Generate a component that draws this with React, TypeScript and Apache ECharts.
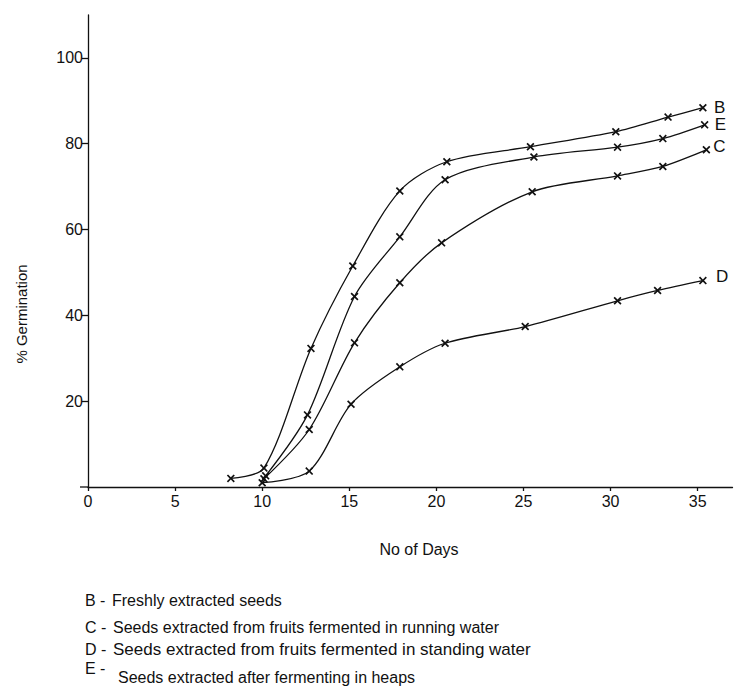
import React, { useEffect, useRef } from "react";
import * as echarts from "echarts";

// Days and % germination, per treatment
const bDays = [8.2, 10.1, 12.8, 15.2, 17.9, 20.6, 25.4, 30.3, 33.3, 35.3];
const bGerm = [2.0, 4.4, 32.3, 51.5, 69.0, 75.8, 79.3, 82.8, 86.2, 88.4];
const cDays = [10.1, 12.7, 15.3, 17.9, 20.3, 25.5, 30.4, 33.0, 35.5];
const cGerm = [1.9, 13.4, 33.6, 47.6, 56.9, 68.8, 72.5, 74.7, 78.6];
const dDays = [10.0, 12.7, 15.1, 17.9, 20.5, 25.1, 30.4, 32.7, 35.3];
const dGerm = [1.0, 3.7, 19.3, 28.0, 33.5, 37.4, 43.4, 45.8, 48.1];
const eDays = [10.2, 12.6, 15.3, 17.9, 20.5, 25.6, 30.4, 33.0, 35.4];
const eGerm = [2.6, 16.8, 44.4, 58.3, 71.6, 76.9, 79.2, 81.2, 84.4];

const xTicks = [0, 5, 10, 15, 20, 25, 30, 35];
const yTicks = [20, 40, 60, 80, 100];

const legendCodes = ["B -", "C -", "D -", "E -"];
const legendTexts = [
  "Freshly extracted seeds",
  "Seeds extracted from fruits fermented in running water",
  "Seeds extracted from fruits fermented in standing water",
  "Seeds extracted after fermenting in heaps",
];

const FONT = "'Liberation Sans', Arial, Helvetica, sans-serif";
const INK = "#111";
const CROSS =
  "path://M0,1.5L1.5,0L5,3.5L8.5,0L10,1.5L6.5,5L10,8.5L8.5,10L5,6.5L1.5,10L0,8.5L3.5,5Z";

function makeSeries(
  name: string,
  days: number[],
  germ: number[],
  distance: number,
  offsetY: number
) {
  const data = days.map((d, i) => {
    const item: any = { value: [d, germ[i]] };
    if (i === days.length - 1) {
      item.label = {
        show: true,
        position: "right",
        distance,
        offset: [0, offsetY],
        formatter: name,
        color: INK,
        fontFamily: FONT,
        fontSize: 17,
      };
    }
    return item;
  });
  return {
    name,
    type: "line",
    smooth: 0.3,
    data,
    symbol: CROSS,
    symbolSize: 8,
    itemStyle: { color: INK },
    lineStyle: { color: INK, width: 1.3 },
    z: 3,
  };
}

export default function App() {
  const ref = useRef<HTMLDivElement>(null);

  useEffect(() => {
    if (!ref.current) return;
    const chart = echarts.init(ref.current, null, { renderer: "svg" });

    const graphics: any[] = [
      {
        type: "text",
        x: 21,
        y: 314,
        rotation: Math.PI / 2,
        style: {
          text: "% Germination",
          fill: INK,
          font: `15px ${FONT}`,
          align: "center",
          verticalAlign: "middle",
        },
      },
      {
        type: "text",
        x: 419,
        y: 549,
        style: {
          text: "No of Days",
          fill: INK,
          font: `16px ${FONT}`,
          align: "center",
          verticalAlign: "middle",
        },
      },
      {
        type: "line",
        shape: { x1: 80, y1: 487, x2: 88, y2: 487 },
        style: { stroke: INK, lineWidth: 1.3 },
      },
    ];
    const codeY = [600, 627, 649, 668];
    const textY = [600, 627, 649, 677];
    const textX = [112, 113, 113, 118];
    const textSize = [16, 16, 17, 16];
    legendCodes.forEach((c, i) => {
      graphics.push({
        type: "text",
        x: 85,
        y: codeY[i],
        style: { text: c, fill: INK, font: `16px ${FONT}`, verticalAlign: "middle" },
      });
      graphics.push({
        type: "text",
        x: textX[i],
        y: textY[i],
        style: {
          text: legendTexts[i],
          fill: INK,
          font: `${textSize[i]}px ${FONT}`,
          verticalAlign: "middle",
        },
      });
    });

    chart.setOption({
      animation: false,
      backgroundColor: "#fff",
      grid: { left: 88, right: 7.5, top: 15, bottom: 202 },
      xAxis: {
        type: "value",
        min: 0,
        max: 37,
        interval: 5,
        splitLine: { show: false },
        axisLine: { show: true, lineStyle: { color: INK, width: 1.3 } },
        axisTick: {
          show: true,
          length: 4,
          customValues: xTicks,
          lineStyle: { color: INK, width: 1.3 },
        },
        axisLabel: {
          customValues: xTicks,
          color: INK,
          fontFamily: FONT,
          fontSize: 16,
          margin: 6,
        },
      },
      yAxis: {
        type: "value",
        min: 0,
        max: 110,
        interval: 10,
        splitLine: { show: false },
        axisLine: { show: true, lineStyle: { color: INK, width: 1.3 } },
        axisTick: {
          show: true,
          length: 6,
          customValues: yTicks,
          lineStyle: { color: INK, width: 1.3 },
        },
        axisLabel: {
          customValues: yTicks,
          color: INK,
          fontFamily: FONT,
          fontSize: 16,
          margin: 5,
        },
      },
      series: [
        makeSeries("B", bDays, bGerm, 7, 0),
        makeSeries("C", cDays, cGerm, 3, -3),
        makeSeries("D", dDays, dGerm, 9, -4),
        makeSeries("E", eDays, eGerm, 6, 0),
      ],
      graphic: graphics,
    });

    return () => chart.dispose();
  }, []);

  return (
    <div
      ref={ref}
      style={{ position: "absolute", left: 0, top: 0, width: 740, height: 689 }}
    />
  );
}
